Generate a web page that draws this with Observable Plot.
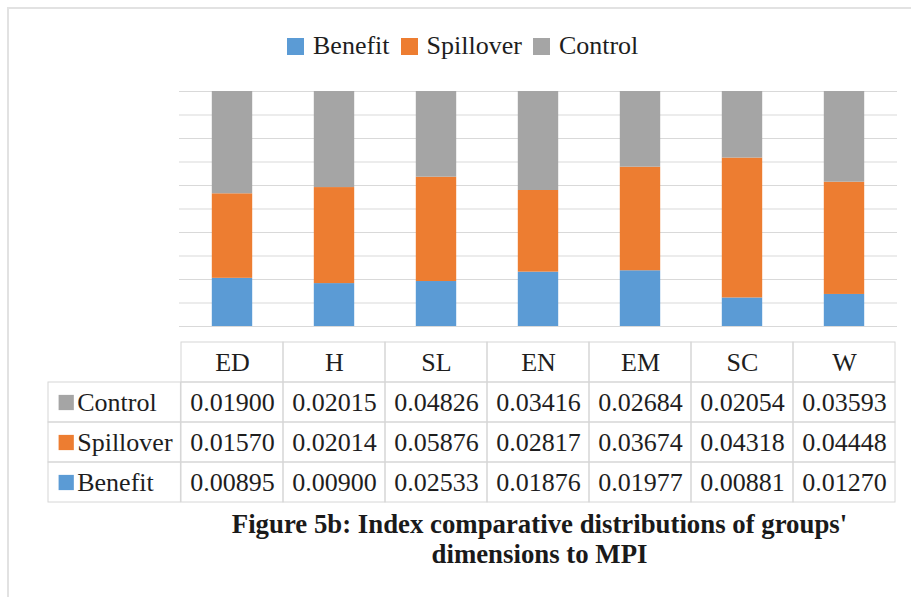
<!DOCTYPE html>
<html>
<head>
<meta charset="utf-8">
<script src="https://cdn.jsdelivr.net/npm/d3@7"></script>
<script src="https://cdn.jsdelivr.net/npm/@observablehq/plot@0.6"></script>
<style>
  html, body { margin: 0; padding: 0; background: #fff; }
  body { width: 911px; height: 597px; position: relative; overflow: hidden; font-family: 'Liberation Serif', 'Times New Roman', serif; }
  #frame { position: absolute; left: 7px; top: 7px; width: 904px; height: 590px; border-left: 2px solid #e2e2e2; border-top: 2px solid #e2e2e2; }
  #legend { position: absolute; left: 287px; top: 31px; font-family: 'Liberation Serif', serif; font-size: 26px; line-height: 30px; color: #1e1e1e; white-space: nowrap; }
  #legend .item { display: inline-block; margin-right: 11px; }
  #legend .sw { display: inline-block; width: 17px; height: 17px; margin-right: 9px; vertical-align: -1px; }
  #bars { position: absolute; left: 0; top: 70px; }
  #table { position: absolute; left: 0; top: 330px; }
  #caption { position: absolute; left: 179px; width: 721px; top: 509px; text-align: center; font-family: 'Liberation Serif', serif; font-weight: bold; font-size: 26.8px; line-height: 30px; color: #1a1a1a; }
</style>
</head>
<body>
<div id="frame"></div>
<div id="legend"></div>
<div id="bars"></div>
<div id="table"></div>
<div id="caption"></div>
<script>
// ---- data ----
const categories = ["ED", "H", "SL", "EN", "EM", "SC", "W"];
const groups = ["Benefit", "Spillover", "Control"];
const tableRows = ["Control", "Spillover", "Benefit"];
const colors = ["#5B9BD5", "#ED7D31", "#A5A5A5"];
const benefit   = [0.00895, 0.00900, 0.02533, 0.01876, 0.01977, 0.00881, 0.01270];
const spillover = [0.01570, 0.02014, 0.05876, 0.02817, 0.03674, 0.04318, 0.04448];
const control   = [0.01900, 0.02015, 0.04826, 0.03416, 0.02684, 0.02054, 0.03593];
const captionLines = ["Figure 5b: Index comparative distributions of groups'", "dimensions to MPI"];

const seriesValues = {Benefit: benefit, Spillover: spillover, Control: control};
const long = [];
for (const g of groups) categories.forEach((c, i) => long.push({cat: c, group: g, value: seriesValues[g][i]}));

const FONT = "'Liberation Serif', 'Times New Roman', serif";

// ---- legend ----
const legend = document.getElementById("legend");
groups.forEach((g, i) => {
  const it = document.createElement("span");
  it.className = "item";
  it.innerHTML = `<span class="sw" style="background:${colors[i]}"></span>${g}`;
  legend.appendChild(it);
});

// ---- caption ----
document.getElementById("caption").innerHTML = captionLines.join("<br>");

const W = 911, ML = 179, MR = 14;
const colorScale = {domain: groups, range: colors};

// ---- 100% stacked bars ----
const bars = Plot.plot({
  width: W, height: 270,
  marginTop: 21, marginBottom: 14, marginLeft: ML, marginRight: MR,
  style: {background: "transparent", fontFamily: FONT},
  x: {domain: categories, padding: 0, axis: null},
  y: {domain: [0, 1], axis: null},
  color: colorScale,
  marks: [
    Plot.gridY({ticks: 10, stroke: "#d9d9d9", strokeOpacity: 1, strokeWidth: 1.2}),
    Plot.barY(long, Plot.stackY({
      offset: "normalize", order: groups,
      x: "cat", y: "value", fill: "group", z: "group",
      insetLeft: 30.8, insetRight: 30.8
    }))
  ]
});
document.getElementById("bars").appendChild(bars);

// ---- data table ----
const tableCells = [];
tableRows.forEach(r => categories.forEach((c, i) => tableCells.push({cat: c, row: r, value: seriesValues[r][i]})));
const step = (W - ML - MR) / categories.length;
const labelColW = ML - 46;
const lineColor = "#d6d6d6";

const table = Plot.plot({
  width: W, height: 180,
  marginTop: 10, marginBottom: 7, marginLeft: ML, marginRight: MR,
  style: {background: "transparent", fontFamily: FONT, fontSize: "26px"},
  x: {domain: categories, padding: 0, axis: null},
  y: {domain: ["header", ...tableRows], padding: 0, axis: null},
  color: colorScale,
  marks: [
    Plot.cell(categories, {x: d => d, y: () => "header", stroke: lineColor, fill: "none"}),
    Plot.cell(tableCells, {x: "cat", y: "row", stroke: lineColor, fill: "none"}),
    Plot.cell(tableRows, {x: () => categories[0], y: d => d, stroke: lineColor, fill: "none",
      insetLeft: -labelColW, insetRight: step}),
    Plot.text(categories, {x: d => d, y: () => "header", text: d => d, fill: "#1e1e1e", fontSize: 26, fontFamily: FONT}),
    Plot.text(tableCells, {x: "cat", y: "row", text: d => d.value.toFixed(5), fill: "#1e1e1e", fontSize: 26, fontFamily: FONT}),
    Plot.dot(tableRows, {x: () => categories[0], y: d => d, symbol: "square", r: 8.6, fill: d => d,
      dx: -(step / 2 + ML - 64), stroke: null}),
    Plot.text(tableRows, {x: () => categories[0], y: d => d, text: d => d, textAnchor: "start",
      dx: -(step / 2 + ML - 75), fill: "#1e1e1e", fontSize: 26, fontFamily: FONT})
  ]
});
document.getElementById("table").appendChild(table);
</script>
</body>
</html>
